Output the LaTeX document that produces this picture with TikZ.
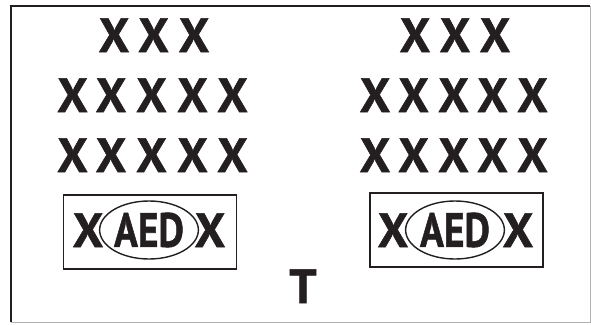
\documentclass[tikz,border=0pt]{standalone}
\usepackage{fontspec}
\newfontfamily\heavyfont{PT Sans Bold}[FakeBold=1.2]
\usetikzlibrary{shapes.geometric}
\definecolor{ink}{HTML}{231F20}
\begin{document}
\begin{tikzpicture}[x=1pt,y=-1pt,
  xmark/.style={font=\heavyfont\fontsize{48}{48}\selectfont, text=ink, inner sep=0pt, anchor=base},
  aedbox/.style={draw=ink, line width=1.2pt, minimum width=173pt, minimum height=74pt, inner sep=0pt},
  aedoval/.style={ellipse, draw=ink, line width=1.4pt, minimum width=94pt, minimum height=58pt, inner sep=0pt,
    font=\heavyfont\fontsize{48}{48}\selectfont, text=ink}]
\useasboundingbox (0,0) rectangle (591,324);
% frame
\draw[ink, line width=2pt] (11,322) -- (11,6) -- (590,6);
\draw[gray!60, line width=1pt] (590,6) -- (590,322) -- (11,322);
% left group
\foreach \x [count=\i] in {114,153.5,194} \node[xmark] (L1-\i) at (\x,52) {X};
\foreach \x [count=\i] in {72.5,111,151.5,192.5,232.5} \node[xmark] (L2-\i) at (\x,112) {X};
\foreach \x [count=\i] in {72.5,111,151.5,192.5,232.5} \node[xmark] (L3-\i) at (\x,172) {X};
\node[aedbox] (lbox) at (150,232) {};
\node[aedoval] (loval) at (149,230) {\scalebox{0.82}[1]{AED}};
\node[xmark] (lx1) at (88,247) {X};
\node[xmark] (lx2) at (210,247) {X};
% right group
\foreach \x [count=\i] in {415,455,495} \node[xmark] (R1-\i) at (\x,52) {X};
\foreach \x [count=\i] in {375,413.5,453.5,492.5,532.5} \node[xmark] (R2-\i) at (\x,112) {X};
\foreach \x [count=\i] in {375,413.5,453.5,492.5,532.5} \node[xmark] (R3-\i) at (\x,172) {X};
\node[aedbox] (rbox) at (456.5,230) {};
\node[aedoval] (roval) at (455,230) {\scalebox{0.82}[1]{AED}};
\node[xmark] (rx1) at (393,247) {X};
\node[xmark] (rx2) at (518,247) {X};
% T
\node[xmark] (T) at (303,303) {T};
\end{tikzpicture}
\end{document}
